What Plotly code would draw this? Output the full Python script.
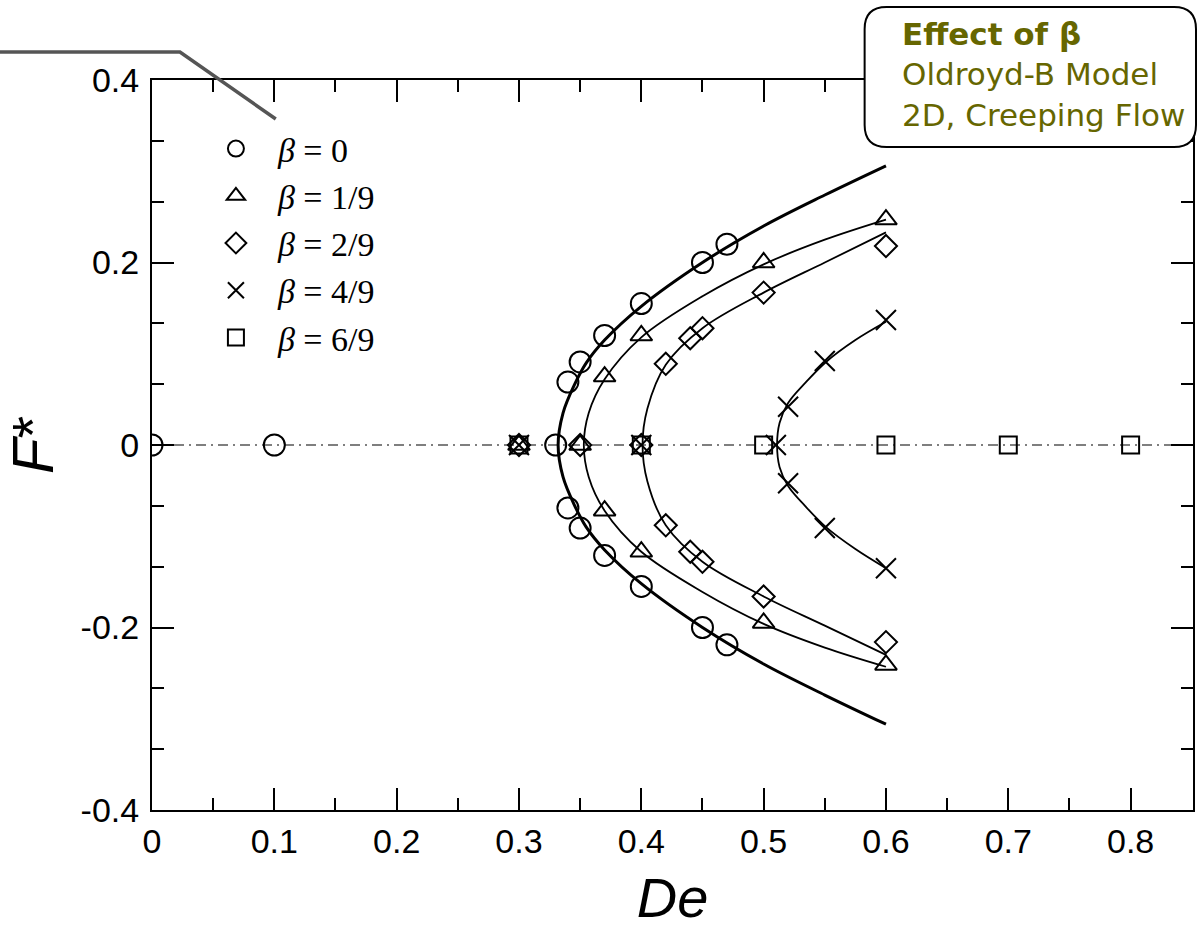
import plotly.graph_objects as go

# ---------------- data ----------------
# measured points
b0_De = [0.0, 0.1, 0.33, 0.34, 0.35, 0.37, 0.40, 0.45, 0.47, 0.34, 0.35, 0.37, 0.40, 0.45, 0.47]
b0_F  = [0.0, 0.0, 0.0, 0.069, 0.091, 0.120, 0.155, 0.200, 0.220, -0.069, -0.091, -0.121, -0.155, -0.200, -0.219]

b1_De = [0.30, 0.35, 0.37, 0.40, 0.50, 0.60, 0.37, 0.40, 0.50, 0.60]
b1_F  = [0.0, 0.0, 0.075, 0.120, 0.200, 0.247, -0.072, -0.117, -0.195, -0.241]

b2_De = [0.30, 0.35, 0.40, 0.42, 0.44, 0.45, 0.50, 0.60, 0.42, 0.44, 0.45, 0.50, 0.60]
b2_F  = [0.0, 0.0, 0.0, 0.089, 0.117, 0.128, 0.167, 0.218, -0.088, -0.117, -0.128, -0.166, -0.216]

b4_De = [0.30, 0.40, 0.51, 0.52, 0.55, 0.60, 0.52, 0.55, 0.60]
b4_F  = [0.0, 0.0, 0.0, 0.042, 0.092, 0.137, -0.042, -0.091, -0.135]

b6_De = [0.30, 0.40, 0.50, 0.60, 0.70, 0.80]
b6_F  = [0.0, 0.0, 0.0, 0.0, 0.0, 0.0]

# fitted curves
c0_De = [0.60, 0.55, 0.50, 0.45, 0.40, 0.37, 0.355, 0.345, 0.336, 0.332, 0.336, 0.345, 0.355, 0.37, 0.40, 0.45, 0.50, 0.55, 0.60]
c0_F  = [-0.306, -0.274, -0.240, -0.200, -0.152, -0.115, -0.090, -0.065, -0.035, 0.0, 0.035, 0.065, 0.090, 0.115, 0.152, 0.200, 0.240, 0.274, 0.306]

c1_De = [0.60, 0.55, 0.50, 0.45, 0.40, 0.37, 0.357, 0.353, 0.357, 0.37, 0.40, 0.45, 0.50, 0.55, 0.60]
c1_F  = [-0.243, -0.222, -0.196, -0.161, -0.117, -0.072, -0.035, 0.0, 0.035, 0.072, 0.118, 0.163, 0.198, 0.225, 0.247]

c2_De = [0.60, 0.55, 0.50, 0.45, 0.42, 0.405, 0.401, 0.405, 0.42, 0.45, 0.50, 0.55, 0.60]
c2_F  = [-0.230, -0.198, -0.166, -0.128, -0.088, -0.040, 0.0, 0.040, 0.088, 0.128, 0.167, 0.200, 0.233]

c4_De = [0.60, 0.575, 0.551, 0.534, 0.52, 0.513, 0.511, 0.513, 0.52, 0.534, 0.551, 0.575, 0.60]
c4_F  = [-0.135, -0.114, -0.090, -0.067, -0.045, -0.024, 0.0, 0.024, 0.046, 0.068, 0.091, 0.115, 0.135]

zero_De = [0.0, 0.851]
zero_F = [0.0, 0.0]

legend_names = ["<i>β</i> = 0", "<i>β</i> = 1/9", "<i>β</i> = 2/9", "<i>β</i> = 4/9", "<i>β</i> = 6/9"]

x_tickvals = [0, 0.1, 0.2, 0.3, 0.4, 0.5, 0.6, 0.7, 0.8]
x_ticktext = ["0", "0.1", "0.2", "0.3", "0.4", "0.5", "0.6", "0.7", "0.8"]
x_minor = [0.05, 0.15, 0.25, 0.35, 0.45, 0.55, 0.65, 0.75]
y_tickvals = [-0.4, -0.2, 0, 0.2, 0.4]
y_ticktext = ["-0.4", "-0.2", "0", "0.2", "0.4"]
y_minor = [-0.3333, -0.2667, -0.1333, -0.0667, 0.0667, 0.1333, 0.2667, 0.3333]

box_lines = ["<b>Effect of β</b>", "Oldroyd-B Model", "2D, Creeping Flow"]

# ---------------- figure ----------------
fig = go.Figure()

fig.add_trace(go.Scatter(x=zero_De, y=zero_F, mode="lines", showlegend=False,
                         line=dict(color="black", width=1.2, dash="10px,5px,2px,5px")))

for cx, cy, w in [(c0_De, c0_F, 3), (c1_De, c1_F, 1.8), (c2_De, c2_F, 1.8), (c4_De, c4_F, 1.8)]:
    fig.add_trace(go.Scatter(x=cx, y=cy, mode="lines", showlegend=False,
                             line=dict(color="black", width=w, shape="spline", smoothing=1.0)))

series = [
    (b0_De, b0_F, "circle-open", 21),
    (b1_De, b1_F, "triangle-up-open", 19),
    (b2_De, b2_F, "diamond-open", 17),
    (b4_De, b4_F, "x-thin-open", 20),
    (b6_De, b6_F, "square-open", 17),
]
for (sx, sy, sym, sz), name in zip(series, legend_names):
    fig.add_trace(go.Scatter(x=sx, y=sy, mode="markers", name=name,
                             marker=dict(symbol=sym, size=sz, color="black",
                                         line=dict(color="black", width=2))))

# plot area geometry in pixels (for placing decorations)
L, R, T, B = 152, 1195, 80, 810
W, H = R - L, B - T
def px(x):
    return (x - L) / W
def py(y):
    return (B - y) / H

axis_common = dict(showline=True, linecolor="black", linewidth=2, mirror="ticks",
                   ticks="inside", ticklen=22, tickwidth=2, tickcolor="black",
                   showgrid=False, zeroline=False,
                   tickfont=dict(family="Liberation Sans, Arial", size=34, color="black"))

fig.update_xaxes(range=[0, 0.851], tickmode="array", tickvals=x_tickvals, ticktext=x_ticktext,
                 minor=dict(tickmode="array", tickvals=x_minor, ticks="inside", ticklen=12,
                            tickwidth=2, tickcolor="black"),
                 title=dict(text="<i>De</i>", font=dict(family="Liberation Sans, Arial", size=56, color="black"),
                            standoff=26),
                 **axis_common)
fig.update_yaxes(range=[-0.4, 0.4], tickmode="array", tickvals=y_tickvals, ticktext=y_ticktext,
                 minor=dict(tickmode="array", tickvals=y_minor, ticks="inside", ticklen=12,
                            tickwidth=2, tickcolor="black"),
                 title=dict(text="<i>F</i>*", font=dict(family="Liberation Sans, Arial", size=58, color="black"),
                            standoff=12),
                 ticklabelstandoff=4,
                 **axis_common)

# rounded callout box (top right)
bx0, bx1, by0, by1, r = 866, 1198, 7, 147, 22
def pt(x, y):
    return f"{px(x):.5f},{py(y):.5f}"
path = (f"M {pt(bx0 + r, by0)} L {pt(bx1 - r, by0)} Q {pt(bx1, by0)} {pt(bx1, by0 + r)} "
        f"L {pt(bx1, by1 - r)} Q {pt(bx1, by1)} {pt(bx1 - r, by1)} "
        f"L {pt(bx0 + r, by1)} Q {pt(bx0, by1)} {pt(bx0, by1 - r)} "
        f"L {pt(bx0, by0 + r)} Q {pt(bx0, by0)} {pt(bx0 + r, by0)} Z")
fig.add_shape(type="path", xref="paper", yref="paper", path=path, layer="above",
              fillcolor="white", line=dict(color="black", width=2))

# grey leader line (top left)
lead = f"M {pt(-2, 52)} L {pt(180, 52)} L {pt(276, 119)}"
fig.add_shape(type="path", xref="paper", yref="paper", path=lead, layer="above",
              line=dict(color="#555555", width=3.5))

fig.add_annotation(xref="paper", yref="paper", x=px(901), y=py(14), xanchor="left", yanchor="top",
                   align="left", showarrow=False, text="<br>".join(box_lines),
                   font=dict(family="DejaVu Sans, Verdana", size=31, color="#666600"))

fig.update_layout(
    width=1198, height=929,
    margin=dict(l=L, r=1198 - R, t=T, b=929 - B),
    plot_bgcolor="white", paper_bgcolor="white",
    showlegend=True,
    legend=dict(x=px(194), y=py(120), xanchor="left", yanchor="top",
                bgcolor="rgba(0,0,0,0)", borderwidth=0, tracegroupgap=0,
                font=dict(family="Liberation Serif, Times New Roman", size=34, color="black"),
                itemwidth=74),
)

fig.write_html("out.html")
